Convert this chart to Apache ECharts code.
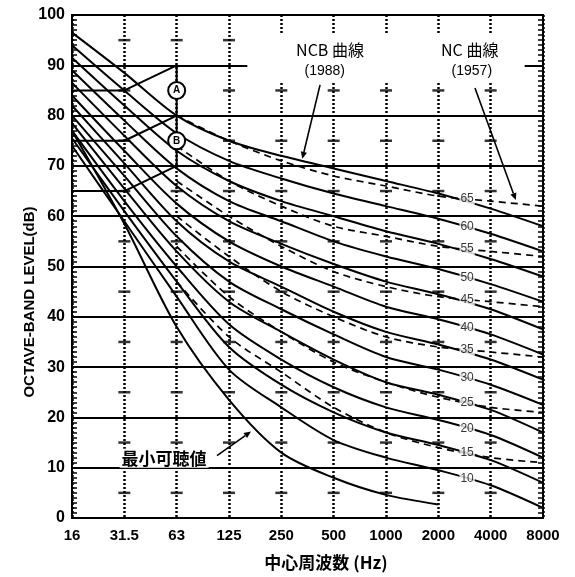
<!DOCTYPE html>
<html><head><meta charset="utf-8">
<script src="https://cdn.jsdelivr.net/npm/echarts@6/dist/echarts.min.js"></script>
<style>html,body{margin:0;padding:0;background:#fff}#c{width:575px;height:577px}</style>
</head><body><div id="c"></div>
<script>
// ---- data ----
const freqLabels = ['16','31.5','63','125','250','500','1000','2000','4000','8000'];
const tickDashLevels = [5,15,25,35,45,55,65,75,85,95];
// NCB curves (solid), values at 16 ... 8000 Hz
const ncbLevels = [65,60,55,50,45,40,35,30,25,20,15,10];
const ncb65 = [96.5, 88.5, 80, 75, 72, 69.5, 67, 64.5, 61.5, 58];
const ncb60 = [94, 85, 76.5, 71, 67.5, 64.5, 62, 59.5, 56.5, 53];
const ncb55 = [91.5, 82, 73, 67, 63, 60, 57, 54.5, 51.5, 48];
const ncb50 = [89, 79, 69.5, 63, 59, 55, 52, 49.5, 46.5, 43];
const ncb45 = [86.5, 76, 66, 59, 54.5, 50.5, 47, 44.5, 41.5, 37.5];
const ncb40 = [84, 73, 62.5, 55, 50, 46, 42, 39.5, 36.5, 32.5];
const ncb35 = [82, 70.5, 59, 51, 46, 41, 37, 34.5, 31.5, 27.5];
const ncb30 = [80, 68, 56, 47, 41.5, 36.5, 32, 29.5, 26.5, 22.5];
const ncb25 = [78.5, 65.5, 53, 43, 37, 31.5, 27, 24.5, 21.5, 17];
const ncb20 = [77, 63, 50, 38.5, 31.5, 26, 22, 19.5, 16.5, 12];
const ncb15 = [75.5, 61, 47, 34, 26.5, 21, 17, 14.5, 11.5, 7];
const ncb10 = [74, 59, 44, 29.5, 22, 15.5, 12, 9.5, 6.5, 2];
const ncbLabelled = [60,50,40,30,20,10];
// NC curves (dashed), values at 63 ... 8000 Hz
const ncLevels = [65,55,45,35,25,15];
const nc65 = [80, 75, 71, 68, 66, 64, 63, 62];
const nc55 = [74, 67, 62, 58, 56, 54, 53, 52];
const nc45 = [67, 60, 54, 49, 46, 44, 43, 42];
const nc35 = [60, 52, 45, 40, 36, 34, 33, 32];
const nc25 = [54, 44, 37, 31, 27, 24, 22, 21];
const nc15 = [47, 36, 29, 22, 17, 14, 12, 11];
// threshold of hearing, 16 ... 2000 Hz
const threshold = [77, 58.5, 38, 23.5, 13, 8, 4.6, 2.7];
// low-frequency region boundary lines, 16 / 31.5 / 63 Hz
const regionA = [85, 85, 90];
const regionB = [75, 75, 80];
const regionC = [65, 65, 70];
const regionVertical = [90, 70];   // at 63 Hz
const circleNames = ['A', 'B'];
const circleLevels = [85, 75];

// ---- chart ----
const FONT = 'Liberation Sans';
const CJK = '"Noto Sans CJK JP", "Noto Sans CJK SC", sans-serif';
const ncbSets = [ncb65,ncb60,ncb55,ncb50,ncb45,ncb40,ncb35,ncb30,ncb25,ncb20,ncb15,ncb10];
const ncSets = [nc65,nc55,nc45,nc35,nc25,nc15];
const NC_START = freqLabels.indexOf('63');
const LABEL_X = 7.55;

function interpAt(arr, offset, x) {
  const i = Math.floor(x - offset), f = (x - offset) - i;
  return arr[i] + (arr[i + 1] - arr[i]) * f;
}

const series = [];
// vertical-line tick dashes
const dashData = [];
for (let xi = 1; xi < freqLabels.length - 1; xi++) tickDashLevels.forEach(v => dashData.push([xi, v]));
series.push({type:'scatter', data: dashData, symbol:'rect', symbolSize:[12,2.5],
  itemStyle:{color:'#000'}, z:2, silent:true});

ncbSets.forEach(arr => series.push({
  type:'line', data: arr.map((v,i)=>[i,v]), smooth:0.3, showSymbol:false, symbol:'none',
  lineStyle:{color:'#000', width:2}, z:3, silent:true}));
ncSets.forEach(arr => series.push({
  type:'line', data: arr.map((v,i)=>[i+NC_START,v]), smooth:0.3, showSymbol:false, symbol:'none',
  lineStyle:{color:'#000', width:1.7, type:[7,5]}, z:3, silent:true}));
series.push({type:'line', data: threshold.map((v,i)=>[i,v]), smooth:0.3, symbol:'none',
  lineStyle:{color:'#000', width:2}, z:3, silent:true});
[regionA, regionB, regionC].forEach(arr => series.push({type:'line', data: arr.map((v,i)=>[i,v]),
  symbol:'none', lineStyle:{color:'#000', width:2}, z:3, silent:true}));
series.push({type:'line', data: regionVertical.map(v=>[NC_START, v]), symbol:'none',
  lineStyle:{color:'#000', width:2}, z:3, silent:true});
series.push({type:'scatter', data: circleLevels.map((v,i)=>({value:[NC_START, v], name: circleNames[i]})),
  symbol:'circle', symbolSize:17, itemStyle:{color:'#fff', borderColor:'#000', borderWidth:2, opacity:1}, z:5,
  label:{show:true, position:'inside', formatter: p => p.name, color:'#000', fontSize:10, fontWeight:'bold', fontFamily:FONT}, silent:true});

// curve labels
const lblData = [];
ncLevels.forEach((lv,k) => lblData.push({value:[LABEL_X, interpAt(ncSets[k], NC_START, LABEL_X)], name:String(lv)}));
ncbLabelled.forEach(lv => { const k = ncbLevels.indexOf(lv); lblData.push({value:[LABEL_X, interpAt(ncbSets[k], 0, LABEL_X)], name:String(lv)}); });
series.push({type:'scatter', data: lblData, symbolSize:0, z:6, silent:true,
  label:{show:true, position:'inside', formatter: p=>p.name, color:'#000', fontSize:12, fontFamily:FONT,
    backgroundColor:'#fff', padding:[0,1]}});

const chart = echarts.init(document.getElementById('c'), null, {renderer:'canvas'});
const yAxisCommon = {type:'value', min:0, max:100, interval:10,
  axisLine:{show:true, lineStyle:{color:'#000', width:2}},
  axisTick:{show:true, inside:true, length:5, lineStyle:{color:'#000', width:1.5}},
  minorTick:{show:true, splitNumber:10, length:5, lineStyle:{color:'#000', width:1.5}}};
chart.setOption({
  animation:false,
  backgroundColor:'#fff',
  grid:{left:72, right:32, top:15, bottom:59, show:true, borderColor:'#000', borderWidth:2, outerBoundsMode:'none'},
  xAxis:{type:'value', min:0, max:9, interval:1,
    axisLine:{show:true, lineStyle:{color:'#000', width:2}}, axisTick:{show:false},
    axisLabel:{formatter: v => freqLabels[v] || '', color:'#000', fontSize:15, fontWeight:'bold', fontFamily:FONT, margin:10},
    splitLine:{show:true, lineStyle:{color:'#000', width:2.5, type:[2,2]}}},
  yAxis:[Object.assign({}, yAxisCommon, {
    axisLabel:{color:'#000', fontSize:16, fontWeight:'bold', fontFamily:FONT, margin:7},
    splitLine:{show:true, lineStyle:{color:'#000', width:2}}}),
    Object.assign({}, yAxisCommon, {position:'right', axisLabel:{show:false}, splitLine:{show:false}})],
  series: series
});

// annotations positioned in data space
const P = (x, y) => chart.convertToPixel({gridIndex:0}, [x, y]);
function arrow(a, b, head) {
  const dx = b[0]-a[0], dy = b[1]-a[1], L = Math.hypot(dx,dy), ux = dx/L, uy = dy/L;
  const bx = b[0]-ux*head, by = b[1]-uy*head, w = head*0.45;
  return [
    {type:'line', shape:{x1:a[0], y1:a[1], x2:bx, y2:by}, style:{stroke:'#000', lineWidth:1.6}, z:20},
    {type:'polygon', shape:{points:[[b[0],b[1]],[bx-uy*w, by+ux*w],[bx+uy*w, by-ux*w]]}, style:{fill:'#000'}, z:20}
  ];
}
const b1 = P(3.35, 96.2), b2 = P(8.65, 86.9);
const graphics = [
  {type:'rect', shape:{x:b1[0], y:b1[1], width:b2[0]-b1[0], height:b2[1]-b1[1]}, style:{fill:'#fff'}, z:10},
];
function txt(pt, s, size, font, weight) {
  return {type:'text', x:pt[0], y:pt[1], style:{text:s, fill:'#000', font:(weight||'normal')+' '+size+'px '+font, align:'center', verticalAlign:'middle'}, z:21};
}
graphics.push(txt(P(4.93, 93.0), 'NCB 曲線', 16, CJK));
graphics.push(txt(P(4.83, 88.9), '(1988)', 14, FONT));
graphics.push(txt(P(7.6, 93.0), 'NC 曲線', 16, CJK));
graphics.push(txt(P(7.64, 88.9), '(1957)', 14, FONT));
arrow(P(4.74, 86.1), P(4.4, 71.4), 7).forEach(g => graphics.push(g));
arrow(P(7.7, 85.5), P(8.48, 63.2), 7).forEach(g => graphics.push(g));
const tp = P(1.76, 11.9);
graphics.push({type:'text', x:tp[0], y:tp[1], style:{text:'最小可聴値', fill:'#000', font:'bold 17px '+CJK, align:'center', verticalAlign:'middle', backgroundColor:'#fff', padding:[1,2]}, z:21});
arrow(P(2.77, 12.4), P(3.42, 17.2), 7).forEach(g => graphics.push(g));
graphics.push({type:'text', x:326, y:563, style:{text:'中心周波数 (Hz)', fill:'#000', font:'bold 17px '+CJK, align:'center', verticalAlign:'middle'}, z:21});
graphics.push({type:'text', x:30, y:302, rotation:Math.PI/2, style:{text:'OCTAVE-BAND LEVEL(dB)', fill:'#000', font:'bold 15px '+FONT, align:'center', verticalAlign:'middle'}, z:21});
chart.setOption({graphic: graphics});
</script>
</body></html>
